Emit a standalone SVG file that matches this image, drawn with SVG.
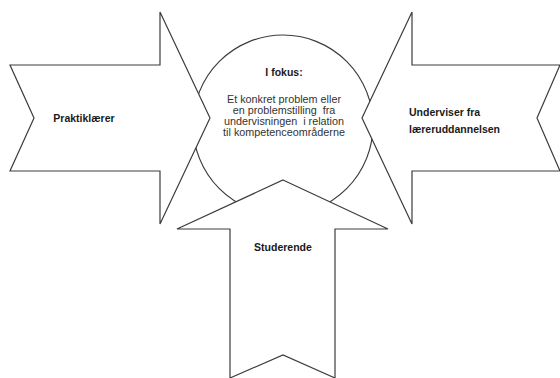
<svg xmlns="http://www.w3.org/2000/svg" width="560" height="378" viewBox="0 0 560 378">
<style>
.shape{fill:#fff;stroke:#3c3c3c;stroke-width:1.2;stroke-linejoin:miter}
.b{font-family:"Liberation Sans",Arial,sans-serif;font-weight:bold;font-size:10.5px;fill:#1a1a1a}
.r{font-family:"Liberation Sans",Arial,sans-serif;font-size:10.8px;fill:#333;white-space:pre}
</style>
<rect width="560" height="378" fill="#fff"/>
<g id="fokus">
<circle class="shape" cx="283" cy="125" r="90"/>
<text class="b" x="284" y="76" text-anchor="middle">I fokus:</text>
<text class="r" text-anchor="middle" xml:space="preserve"><tspan x="284" y="103">Et konkret problem eller</tspan><tspan x="284" y="114">en problemstilling  fra</tspan><tspan x="284" y="125">undervisningen  i relation</tspan><tspan x="284" y="136">til kompetenceområderne</tspan></text>
</g>
<g id="connectors"></g>
<g id="praktiklaerer">
<path class="shape" d="M10,65 L160,65 L160,12 L210,118 L160,224 L160,171 L10,171 L34,118 Z"/>
<text class="b" x="84" y="122" text-anchor="middle">Praktiklærer</text>
</g>
<g id="underviser">
<path class="shape" d="M560,65 L412,65 L412,12 L362,118 L412,224 L412,171 L560,171 L537,118 Z"/>
<text class="b"><tspan x="409" y="116">Underviser fra</tspan><tspan x="409" y="133">læreruddannelsen</tspan></text>
</g>
<g id="studerende">
<path class="shape" d="M283,180 L388,229 L335,229 L335,378 L283,355 L230,378 L230,229 L177,229 Z"/>
<text class="b" x="283" y="251" text-anchor="middle">Studerende</text>
</g>
</svg>
